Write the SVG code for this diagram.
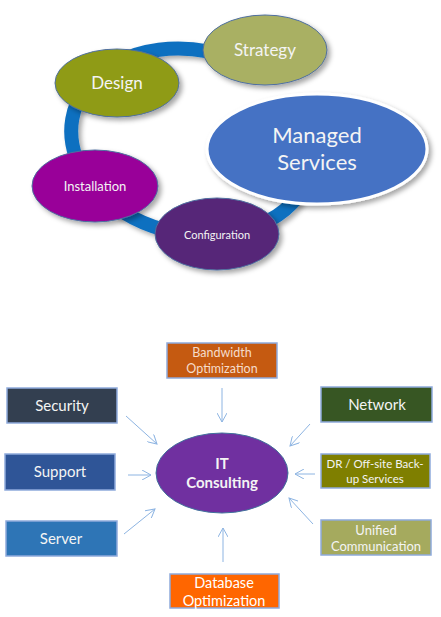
<svg xmlns="http://www.w3.org/2000/svg" width="441" height="617" viewBox="0 0 441 617">
<defs>
<filter id="sh" x="-20%" y="-20%" width="150%" height="150%">
<feDropShadow dx="3" dy="3" stdDeviation="2.5" flood-color="#000" flood-opacity="0.35"/>
</filter>
<marker id="ah" viewBox="0 0 10 10" refX="9" refY="5" markerWidth="10" markerHeight="10" markerUnits="userSpaceOnUse" orient="auto">
<path d="M0,0 L9,5 L0,10" fill="none" stroke="#8DB4E2" stroke-width="1"/>
</marker>
</defs>
<style>
.t{font-family:Lato,"Open Sans",sans-serif;text-anchor:middle;fill:#F4F4F4}
.el{stroke:#4F6F9F;stroke-width:1}
.bx{stroke:#8FAADC;stroke-width:1.5}
.ar{stroke:#8DB4E2;stroke-width:1;fill:none;marker-end:url(#ah)}
</style>
<rect width="441" height="617" fill="#fff"/>
<g id="ring">
<path d="M250.8,66.1 A122,92 12 1 0 297.6,196.7" fill="none" stroke="#1070C0" stroke-width="14" filter="url(#sh)"/>
</g>
<g id="strategy">
<ellipse class="el" cx="265" cy="50" rx="62" ry="35" fill="#A9B064" filter="url(#sh)"/>
<text class="t" x="265" y="56" font-size="17">Strategy</text>
</g>
<g id="design">
<ellipse class="el" cx="117" cy="83" rx="62" ry="34" fill="#8F9B18" filter="url(#sh)"/>
<text class="t" x="117" y="89" font-size="17">Design</text>
</g>
<g id="managed">
<ellipse cx="317" cy="149" rx="110" ry="55" fill="#4472C4" stroke="#fff" stroke-width="3" filter="url(#sh)"/>
<text class="t" x="317" y="143" font-size="22">Managed</text>
<text class="t" x="317" y="170" font-size="22">Services</text>
</g>
<g id="installation">
<ellipse class="el" cx="95" cy="186" rx="63" ry="36" fill="#990099" filter="url(#sh)"/>
<text class="t" x="95" y="191" font-size="13">Installation</text>
</g>
<g id="configuration">
<ellipse class="el" cx="217" cy="234" rx="62" ry="36" fill="#572578" filter="url(#sh)"/>
<text class="t" x="217" y="239" font-size="11">Configuration</text>
</g>

<g id="connectors">
<line class="ar" x1="222" y1="388" x2="222" y2="422"/>
<line class="ar" x1="126" y1="416" x2="157" y2="444"/>
<line class="ar" x1="128" y1="475" x2="151" y2="475"/>
<line class="ar" x1="124" y1="534" x2="155" y2="509"/>
<line class="ar" x1="310" y1="424" x2="290" y2="446"/>
<line class="ar" x1="315" y1="474" x2="295" y2="474"/>
<line class="ar" x1="313" y1="524" x2="289" y2="498"/>
<line class="ar" x1="223" y1="562" x2="223" y2="528"/>
</g>

<g id="it-consulting">
<ellipse cx="222" cy="473" rx="66" ry="40" fill="#7030A0" stroke="#41719C" stroke-width="1"/>
<text class="t" x="222" y="469" font-size="15" font-weight="bold">IT</text>
<text class="t" x="222" y="488" font-size="15" font-weight="bold">Consulting</text>
</g>
<g id="bandwidth">
<rect class="bx" x="167" y="343" width="110" height="35" fill="#C55A11"/>
<text class="t" x="222" y="357" font-size="12.5" style="fill:#F5DCCB">Bandwidth</text>
<text class="t" x="222" y="373" font-size="12.5" style="fill:#F5DCCB">Optimization</text>
</g>
<g id="security">
<rect class="bx" x="7" y="388" width="110" height="35" fill="#333F50"/>
<text class="t" x="62" y="411" font-size="15">Security</text>
</g>
<g id="network">
<rect class="bx" x="321" y="387" width="111" height="35" fill="#375623"/>
<text class="t" x="377" y="410" font-size="15">Network</text>
</g>
<g id="support">
<rect class="bx" x="5" y="454" width="110" height="36" fill="#2F5597"/>
<text class="t" x="60" y="477" font-size="15">Support</text>
</g>
<g id="dr">
<rect class="bx" x="321" y="454" width="109" height="34" fill="#7F7F00"/>
<text class="t" x="375" y="468" font-size="11.5">DR / Off-site Back-</text>
<text class="t" x="375" y="483" font-size="11.5">up Services</text>
</g>
<g id="server">
<rect class="bx" x="6" y="521" width="111" height="35" fill="#2E75B6"/>
<text class="t" x="61" y="544" font-size="15">Server</text>
</g>
<g id="unified">
<rect class="bx" x="321" y="520" width="110" height="35" fill="#A5AA5E"/>
<text class="t" x="376" y="535" font-size="13">Unified</text>
<text class="t" x="376" y="551" font-size="13">Communication</text>
</g>
<g id="database">
<rect class="bx" x="170" y="574" width="109" height="34" fill="#FF6600"/>
<text class="t" x="224" y="588" font-size="14.5" style="fill:#fff">Database</text>
<text class="t" x="224" y="606" font-size="14.5" style="fill:#fff">Optimization</text>
</g>
</svg>
